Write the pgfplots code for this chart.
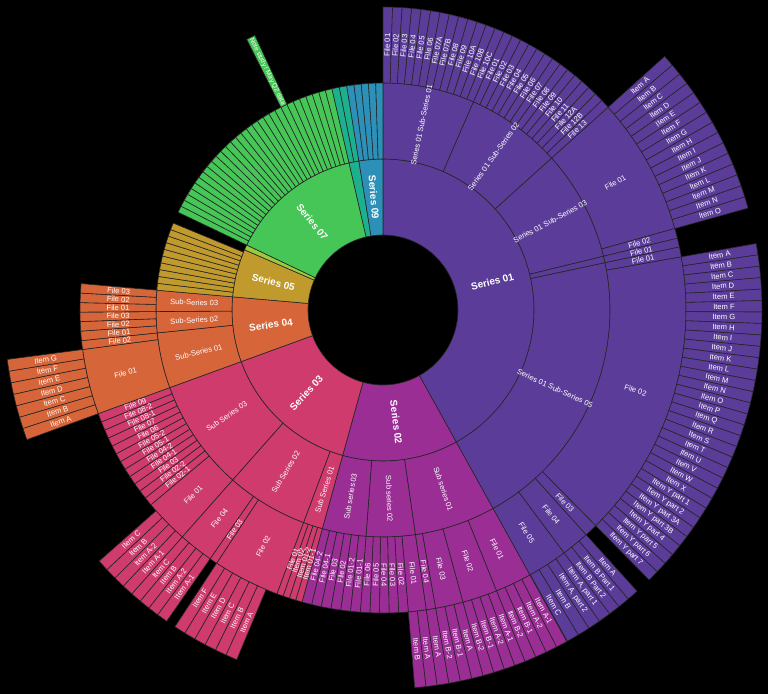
\documentclass[border=0pt]{standalone}
\usepackage{pgfplots}
\pgfplotsset{compat=1.18}
\usepackage{fontspec}
\setmainfont{Liberation Sans}
\definecolor{c1}{HTML}{5B3D99}
\definecolor{c2}{HTML}{9A2E95}
\definecolor{c3}{HTML}{CE3B6C}
\definecolor{c4}{HTML}{D7653A}
\definecolor{c5}{HTML}{C09A2C}
\definecolor{c6}{HTML}{9DC93D}
\definecolor{c7}{HTML}{46C656}
\definecolor{c8}{HTML}{1CB08E}
\definecolor{c9}{HTML}{2C90B8}
\newcommand{\fa}{\bfseries\fontsize{7.5}{8}\selectfont}
\newcommand{\fs}{\fontsize{5.7}{6.5}\selectfont}
\newcommand{\fss}{\fontsize{4.9}{5.5}\selectfont}
% #1 start angle, #2 end angle (clockwise from 12 o'clock), #3 inner r, #4 outer r (px), #5 colour, #6 label, #7 font
\newcommand{\wedgepass}[7]{%
 \filldraw[fill=#5, draw=black!85, line width=0.45bp, shift={(axis cs:383,384)}]
   ({90-(#1)}:{#3*0.75bp}) arc[start angle={90-(#1)}, end angle={90-(#2)}, radius={#3*0.75bp}]
   -- ({90-(#2)}:{#4*0.75bp}) arc[start angle={90-(#2)}, end angle={90-(#1)}, radius={#4*0.75bp}] -- cycle;
}
\newcommand{\labelpass}[7]{%
 \path[shift={(axis cs:383,384)}] ({90-((#1)+(#2))/2}:{((#3)+(#4))/2*0.75bp})
   node[text=white, font=#7, inner sep=0pt, rotate={ifthenelse(((#1)+(#2))/2<180, 90-((#1)+(#2))/2, 270-((#1)+(#2))/2)}] {#6};
}
\let\segr\wedgepass
\newcommand{\sA}[4]{\segr{#1}{#2}{75}{151}{#3}{#4}{\fa}}
\newcommand{\sB}[4]{\segr{#1}{#2}{151}{227}{#3}{#4}{\fs}}
\newcommand{\sC}[4]{\segr{#1}{#2}{227}{303}{#3}{#4}{\fs}}
\newcommand{\sCs}[4]{\segr{#1}{#2}{227}{303}{#3}{#4}{\fss}}
\newcommand{\sD}[4]{\segr{#1}{#2}{303}{379}{#3}{#4}{\fs}}
\newcommand{\allsegs}{%
% ---------- ring 1 ----------
\sA{0}{151}{c1}{Series 01}
\sA{151}{195.5}{c2}{Series 02}
\sA{195.5}{250}{c3}{Series 03}
\sA{250}{275}{c4}{Series 04}
\sA{275}{293.5}{c5}{Series 05}
\sA{293.5}{295.5}{c6}{}
\sA{295.5}{347}{c7}{Series 07}
\sA{347}{350.8}{c8}{}
\sA{350.8}{360}{c9}{Series 09}
% ---------- ring 2 ----------
\sB{0}{23.5}{c1}{Series 01 Sub-Series 01}
\sB{23.5}{48}{c1}{Series 01 Sub-Series 02}
\sB{48}{76.3}{c1}{Series 01 Sub-Series 03}
\sB{76.3}{78}{c1}{}
\sB{78}{151}{c1}{Series 01 Sub-Series 05}
\sB{151}{171.8}{c2}{Sub series 01}
\sB{171.8}{184.3}{c2}{Sub series 02}
\sB{184.3}{195.5}{c2}{Sub series 03}
\sB{195.5}{200.5}{c3}{Sub Series 01}
\sB{200.5}{221.5}{c3}{Sub Series 02}
\sB{221.5}{250}{c3}{Sub Series 03}
\sB{250}{264.2}{c4}{Sub-Series 01}
\sB{264.2}{269.6}{c4}{Sub-Series 02}
\sB{269.6}{275}{c4}{Sub-Series 03}
\sB{275}{276.75}{c5}{}
\sB{276.75}{278.5}{c5}{}
\sB{278.5}{280.25}{c5}{}
\sB{280.25}{282}{c5}{}
\sB{282}{283.75}{c5}{}
\sB{283.75}{285.5}{c5}{}
\sB{285.5}{287.25}{c5}{}
\sB{287.25}{289}{c5}{}
\sB{289}{290.75}{c5}{}
\sB{290.75}{292.5}{c5}{}
\sB{295.5}{297.22}{c7}{}
\sB{297.22}{298.93}{c7}{}
\sB{298.93}{300.65}{c7}{}
\sB{300.65}{302.37}{c7}{}
\sB{302.37}{304.08}{c7}{}
\sB{304.08}{305.8}{c7}{}
\sB{305.8}{307.52}{c7}{}
\sB{307.52}{309.23}{c7}{}
\sB{309.23}{310.95}{c7}{}
\sB{310.95}{312.67}{c7}{}
\sB{312.67}{314.38}{c7}{}
\sB{314.38}{316.1}{c7}{}
\sB{316.1}{317.82}{c7}{}
\sB{317.82}{319.53}{c7}{}
\sB{319.53}{321.25}{c7}{}
\sB{321.25}{322.97}{c7}{}
\sB{322.97}{324.68}{c7}{}
\sB{324.68}{326.4}{c7}{}
\sB{326.4}{328.12}{c7}{}
\sB{328.12}{329.83}{c7}{}
\sB{329.83}{331.55}{c7}{}
\sB{331.55}{333.27}{c7}{}
\sB{333.27}{334.98}{c7}{}
\sB{334.98}{336.7}{c7}{}
\sB{336.7}{338.42}{c7}{}
\sB{338.42}{340.13}{c7}{}
\sB{340.13}{341.85}{c7}{}
\sB{341.85}{343.57}{c7}{}
\sB{343.57}{345.28}{c7}{}
\sB{345.28}{347}{c7}{}
\sB{347}{348.9}{c8}{}
\sB{348.9}{350.8}{c8}{}
\sB{350.8}{352.64}{c9}{}
\sB{352.64}{354.48}{c9}{}
\sB{354.48}{356.32}{c9}{}
\sB{356.32}{358.16}{c9}{}
\sB{358.16}{360}{c9}{}
% ---------- ring 3 ----------
\sC{0}{1.81}{c1}{File 01}
\sC{1.81}{3.62}{c1}{File 02}
\sC{3.62}{5.42}{c1}{File 03}
\sC{5.42}{7.23}{c1}{File 04}
\sC{7.23}{9.04}{c1}{File 05}
\sC{9.04}{10.85}{c1}{File 06}
\sC{10.85}{12.65}{c1}{File 07A}
\sC{12.65}{14.46}{c1}{File 07B}
\sC{14.46}{16.27}{c1}{File 08}
\sC{16.27}{18.08}{c1}{File 09}
\sC{18.08}{19.88}{c1}{File 10A}
\sC{19.88}{21.69}{c1}{File 10B}
\sC{21.69}{23.5}{c1}{File 10C}
\sC{23.5}{25.25}{c1}{File 01}
\sC{25.25}{27}{c1}{File 02}
\sC{27}{28.75}{c1}{File 03}
\sC{28.75}{30.5}{c1}{File 04}
\sC{30.5}{32.25}{c1}{File 05}
\sC{32.25}{34}{c1}{File 06}
\sC{34}{35.75}{c1}{File 07}
\sC{35.75}{37.5}{c1}{File 08}
\sC{37.5}{39.25}{c1}{File 09}
\sC{39.25}{41}{c1}{File 10}
\sC{41}{42.75}{c1}{File 11}
\sC{42.75}{44.5}{c1}{File 12A}
\sC{44.5}{46.25}{c1}{File 12B}
\sC{46.25}{48}{c1}{File 13}
\sC{48}{74.4}{c1}{File 01}
\sC{74.4}{76.3}{c1}{File 02}
\sC{76.3}{78}{c1}{File 01}
\sC{78}{79.9}{c1}{File 01}
\sC{79.9}{135.4}{c1}{File 02}
\sC{135.4}{137.9}{c1}{File 03}
\sC{137.9}{143.3}{c1}{File 04}
\sC{143.3}{151}{c1}{File 05}
\sC{151}{158}{c2}{File 01}
\sC{158}{164.7}{c2}{File 02}
\sC{164.7}{170}{c2}{File 03}
\sC{170}{171.8}{c2}{File 04}
\sC{171.8}{175.2}{c2}{File 01}
\sC{175.2}{177.02}{c2}{File 02}
\sC{177.02}{178.84}{c2}{File 03}
\sC{178.84}{180.66}{c2}{File 04}
\sC{180.66}{182.48}{c2}{File 05}
\sC{182.48}{184.3}{c2}{File 06}
\sC{184.3}{186.17}{c2}{File 01-1}
\sC{186.17}{188.03}{c2}{File 01-2}
\sC{188.03}{189.9}{c2}{File 02}
\sC{189.9}{191.77}{c2}{File 03}
\sC{191.77}{193.63}{c2}{File 04-1}
\sC{193.63}{195.5}{c2}{File 04-2}
\sC{195.5}{196.75}{c3}{Item 01-1}
\sC{196.75}{198}{c3}{Item 01-2}
\sC{198}{199.25}{c3}{Item 02}
\sC{199.25}{200.5}{c3}{File 01}
\sC{200.5}{213.3}{c3}{File 02}
\sC{213.3}{214.8}{c3}{File 03}
\sC{214.8}{221.5}{c3}{File 04}
\sC{221.5}{230}{c3}{File 01}
\sC{230}{231.67}{c3}{File 02-1}
\sC{231.67}{233.33}{c3}{File 02-2}
\sC{233.33}{235}{c3}{File 03}
\sC{235}{236.67}{c3}{File 04-1}
\sC{236.67}{238.33}{c3}{File 04-2}
\sC{238.33}{240}{c3}{File 05-1}
\sC{240}{241.67}{c3}{File 05-2}
\sC{241.67}{243.33}{c3}{File 06}
\sC{243.33}{245}{c3}{File 07}
\sC{245}{246.67}{c3}{File 08-1}
\sC{246.67}{248.33}{c3}{File 08-2}
\sC{248.33}{250}{c3}{File 09}
\sC{250}{262.5}{c4}{File 01}
\sC{262.5}{264.2}{c4}{File 02}
\sC{264.2}{266}{c4}{File 01}
\sC{266}{267.8}{c4}{File 02}
\sC{267.8}{269.6}{c4}{File 03}
\sC{269.6}{271.4}{c4}{File 01}
\sC{271.4}{273.2}{c4}{File 02}
\sC{273.2}{275}{c4}{File 03}
\sCs{333.27}{334.98}{c7}{Note study / May Q2 data}
% ---------- ring 4 ----------
\sD{48}{49.76}{c1}{Item A}
\sD{49.76}{51.52}{c1}{Item B}
\sD{51.52}{53.28}{c1}{Item C}
\sD{53.28}{55.04}{c1}{Item D}
\sD{55.04}{56.8}{c1}{Item E}
\sD{56.8}{58.56}{c1}{Item F}
\sD{58.56}{60.32}{c1}{Item G}
\sD{60.32}{62.08}{c1}{Item H}
\sD{62.08}{63.84}{c1}{Item I}
\sD{63.84}{65.6}{c1}{Item J}
\sD{65.6}{67.36}{c1}{Item K}
\sD{67.36}{69.12}{c1}{Item L}
\sD{69.12}{70.88}{c1}{Item M}
\sD{70.88}{72.64}{c1}{Item N}
\sD{72.64}{74.4}{c1}{Item O}
\sD{79.9}{81.63}{c1}{Item A}
\sD{81.63}{83.37}{c1}{Item B}
\sD{83.37}{85.10}{c1}{Item C}
\sD{85.10}{86.84}{c1}{Item D}
\sD{86.84}{88.57}{c1}{Item E}
\sD{88.57}{90.31}{c1}{Item F}
\sD{90.31}{92.04}{c1}{Item G}
\sD{92.04}{93.78}{c1}{Item H}
\sD{93.78}{95.51}{c1}{Item I}
\sD{95.51}{97.24}{c1}{Item J}
\sD{97.24}{98.98}{c1}{Item K}
\sD{98.98}{100.71}{c1}{Item L}
\sD{100.71}{102.45}{c1}{Item M}
\sD{102.45}{104.18}{c1}{Item N}
\sD{104.18}{105.92}{c1}{Item O}
\sD{105.92}{107.65}{c1}{Item P}
\sD{107.65}{109.38}{c1}{Item Q}
\sD{109.38}{111.12}{c1}{Item R}
\sD{111.12}{112.85}{c1}{Item S}
\sD{112.85}{114.59}{c1}{Item T}
\sD{114.59}{116.32}{c1}{Item U}
\sD{116.32}{118.06}{c1}{Item V}
\sD{118.06}{119.79}{c1}{Item W}
\sD{119.79}{121.53}{c1}{Item X}
\sD{121.53}{123.26}{c1}{Item Y part 1}
\sD{123.26}{124.99}{c1}{Item Y part 2}
\sD{124.99}{126.73}{c1}{Item Y part 3A}
\sD{126.73}{128.46}{c1}{Item Y part 3B}
\sD{128.46}{130.20}{c1}{Item Y part 4}
\sD{130.20}{131.93}{c1}{Item Y part 5}
\sD{131.93}{133.67}{c1}{Item Y part 6}
\sD{133.67}{135.4}{c1}{Item Y part 7}
\sD{137.9}{139.7}{c1}{Item A}
\sD{139.7}{141.5}{c1}{Item B Part 1}
\sD{141.5}{143.3}{c1}{Item B Part 2}
\sD{143.3}{145.2}{c1}{Item A, part 1}
\sD{145.2}{147.1}{c1}{Item A, part 2}
\sD{147.1}{149}{c1}{Item B}
\sD{149}{150.9}{c1}{Item C}
\sD{151}{152.75}{c2}{Item A-1}
\sD{152.75}{154.5}{c2}{Item A-2}
\sD{154.5}{156.25}{c2}{Item B-1}
\sD{156.25}{158}{c2}{Item B-2}
\sD{158}{159.68}{c2}{Item A-1}
\sD{159.68}{161.35}{c2}{Item A-2}
\sD{161.35}{163.03}{c2}{Item B-1}
\sD{163.03}{164.7}{c2}{Item B-2}
\sD{164.7}{166.47}{c2}{Item A}
\sD{166.47}{168.23}{c2}{Item B-1}
\sD{168.23}{170}{c2}{Item B-2}
\sD{170}{171.8}{c2}{Item A}
\sD{171.8}{173.5}{c2}{Item A}
\sD{173.5}{175.2}{c2}{Item B}
\sD{202.7}{204.47}{c3}{Item A}
\sD{204.47}{206.23}{c3}{Item B}
\sD{206.23}{208}{c3}{Item C}
\sD{208}{209.77}{c3}{Item D}
\sD{209.77}{211.53}{c3}{Item E}
\sD{211.53}{213.3}{c3}{Item F}
\sD{214.8}{216.48}{c3}{Item A-1}
\sD{216.48}{218.15}{c3}{Item A-2}
\sD{218.15}{219.83}{c3}{Item B}
\sD{219.83}{221.5}{c3}{Item C}
\sD{221.5}{223.25}{c3}{Item A-1}
\sD{223.25}{225}{c3}{Item A-2}
\sD{225}{226.75}{c3}{Item B}
\sD{226.75}{228.5}{c3}{Item C}
\sD{250}{251.79}{c4}{Item A}
\sD{251.79}{253.57}{c4}{Item B}
\sD{253.57}{255.36}{c4}{Item C}
\sD{255.36}{257.14}{c4}{Item D}
\sD{257.14}{258.93}{c4}{Item E}
\sD{258.93}{260.71}{c4}{Item F}
\sD{260.71}{262.5}{c4}{Item G}
}
\begin{document}
\begin{tikzpicture}
\begin{axis}[x=0.75bp, y=0.75bp, xmin=0, xmax=768, ymin=0, ymax=694, hide axis, clip=false]
\fill[black] (axis cs:0,0) rectangle (axis cs:768,694);
\let\segr\wedgepass
\allsegs
\let\segr\labelpass
\allsegs
\end{axis}
\end{tikzpicture}
\end{document}
